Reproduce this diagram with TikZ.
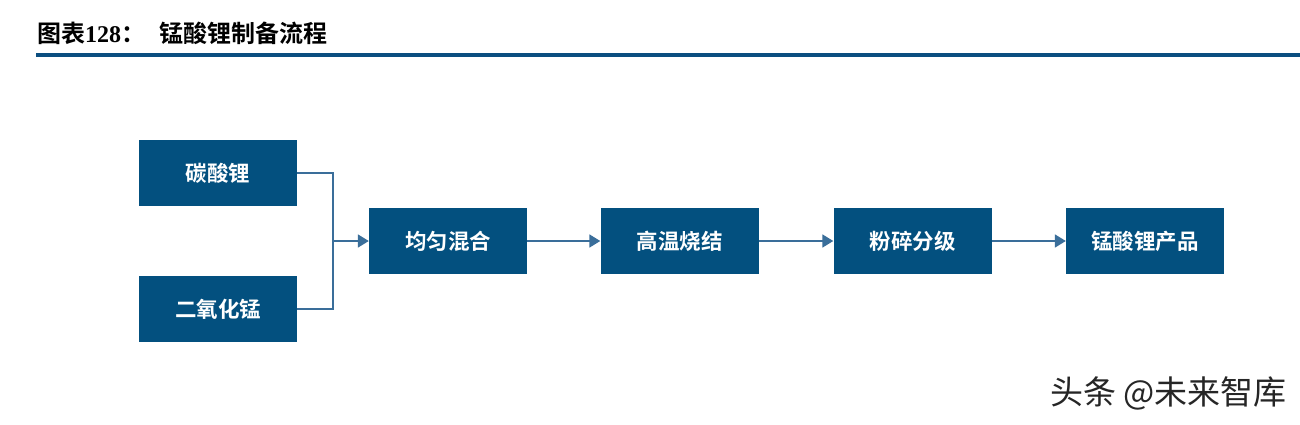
\documentclass[tikz,border=0pt]{standalone}
\usepackage{fontspec}
\newfontfamily\cjk{Noto Sans CJK SC}
\newfontfamily\cjkb{Noto Sans CJK SC Bold}
\newfontfamily\serifb{Liberation Serif}
\usetikzlibrary{arrows.meta}
\definecolor{boxblue}{HTML}{03507F}
\definecolor{lineblue}{HTML}{3A6E9A}
\definecolor{rule}{HTML}{0B4E80}
\begin{document}
\begin{tikzpicture}[x=1pt,y=-1pt,
  stepbox/.style={fill=boxblue,draw=none,minimum width=158pt,minimum height=66pt,inner sep=0pt,text=white,font=\cjkb\fontsize{21.5}{21.5}\selectfont},
  conn/.style={draw=lineblue,line width=1.8pt},
  arr/.style={conn,-{Triangle[length=11pt,width=13pt]}}]
\useasboundingbox (0,0) rectangle (1300,424);
\fill[white] (0,0) rectangle (1300,424);
\node[anchor=west,inner sep=0pt,font=\cjkb\fontsize{24}{24}\selectfont] (title) at (37,33) {图表{\serifb\bfseries 128}：\hspace{14pt}锰酸锂制备流程};
\fill[rule] (36,53) rectangle (1300,57);
\node[stepbox] (a) at (218,173) {碳酸锂};
\node[stepbox] (b) at (218,309) {二氧化锰};
\node[stepbox] (c) at (448,241) {均匀混合};
\node[stepbox] (d) at (679.5,241) {高温烧结};
\node[stepbox] (e) at (912.5,241) {粉碎分级};
\node[stepbox] (f) at (1145,241) {锰酸锂产品};
\coordinate (j) at (333,241);
\draw[conn] (a.east) -| (j);
\draw[conn] (b.east) -| (j);
\draw[arr] (j) -- (c.west);
\draw[arr] (c.east) -- (d.west);
\draw[arr] (d.east) -- (e.west);
\draw[arr] (e.east) -- (f.west);
\node[anchor=west,inner sep=0pt,text=black!85,font=\cjk\fontsize{33}{33}\selectfont] (wm) at (1050,393) {头条 @未来智库};
\end{tikzpicture}
\end{document}
